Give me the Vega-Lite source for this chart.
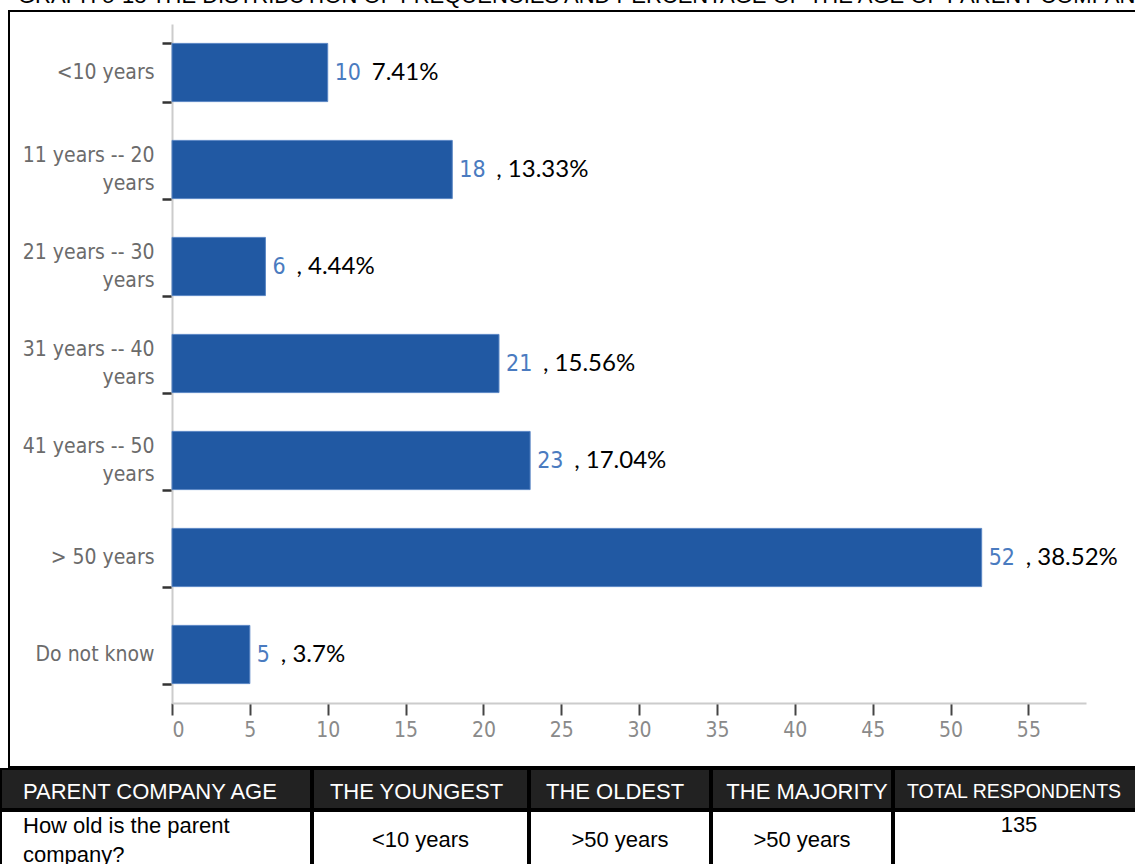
{
  "$schema": "https://vega.github.io/schema/vega-lite/v6.json",
  "background": "white",
  "padding": {"left": 0, "top": -15, "right": 0, "bottom": 0},
  "title": {"text": "GRAPH 5-18 THE DISTRIBUTION OF FREQUENCIES AND PERCENTAGE OF THE AGE OF PARENT COMPANY", "anchor": "start", "dx": 18, "offset": -9, "font": "Liberation Sans", "fontSize": 22, "fontWeight": "normal", "color": "#000"},
  "config": {"view": {"stroke": null}},
  "spacing": 0,
  "datasets": {
    "ages": [
      {"age": "<10 years", "count": 10, "label": "7.41%"},
      {"age": "11 years -- 20 years", "count": 18, "label": ", 13.33%"},
      {"age": "21 years -- 30 years", "count": 6, "label": ", 4.44%"},
      {"age": "31 years -- 40 years", "count": 21, "label": ", 15.56%"},
      {"age": "41 years -- 50 years", "count": 23, "label": ", 17.04%"},
      {"age": "> 50 years", "count": 52, "label": ", 38.52%"},
      {"age": "Do not know", "count": 5, "label": ", 3.7%"}
    ],
    "table": [
      {"col": 1, "header": "PARENT COMPANY AGE", "value": "How old is the parent\ncompany?"},
      {"col": 2, "header": "THE YOUNGEST", "value": "<10 years"},
      {"col": 3, "header": "THE OLDEST", "value": ">50 years"},
      {"col": 4, "header": "THE MAJORITY", "value": ">50 years"},
      {"col": 5, "header": "TOTAL RESPONDENTS", "value": "135"}
    ]
  },
  "vconcat": [
    {
      "spacing": 0,
      "hconcat": [
        {"width": 7, "height": 756, "data": {"values": [{}]}, "mark": {"type": "point", "opacity": 0}},
        {
          "width": 1132,
          "height": 756,
          "view": {"stroke": "#000", "strokeWidth": 2},
          "data": {"name": "ages"},
          "encoding": {
            "y": {
              "field": "age", "type": "nominal", "sort": null,
              "scale": {"range": [13, 692], "paddingInner": 0.4, "paddingOuter": 0.2},
              "axis": {
                "title": null, "orient": "left", "offset": -163,
                "domainColor": "#cccccc", "domainWidth": 2,
                "tickBand": "extent", "tickColor": "#333333", "tickSize": 10, "tickWidth": 2.5,
                "labelColor": "#6b6b6b", "labelFont": "DejaVu Sans Condensed, Liberation Sans", "labelFontSize": 21,
                "labelPadding": 8, "labelLineHeight": 28, "labelLimit": 0,
                "labelOffset": {"condition": {"test": "length(datum.label) > 12", "value": -14}, "value": 0},
                "labelExpr": "length(datum.label) > 12 ? [slice(datum.label, 0, -6), 'years'] : datum.label"
              }
            },
            "x": {
              "field": "count", "type": "quantitative",
              "scale": {"domain": [0, 58.7], "range": [163, 1077], "nice": false, "zero": true},
              "axis": {
                "title": null, "orient": "bottom", "offset": -64, "grid": false,
                "values": [0, 5, 10, 15, 20, 25, 30, 35, 40, 45, 50, 55],
                "domainColor": "#cccccc", "domainWidth": 2,
                "tickColor": "#444444", "tickSize": 12, "tickWidth": 2,
                "labelColor": "#8a8a8a", "labelFont": "DejaVu Sans Condensed, Liberation Sans", "labelFontSize": 21,
                "labelPadding": 4
              }
            }
          },
          "layer": [
            {"mark": {"type": "bar", "color": "#2159a3", "stroke": "#5a86c4", "strokeWidth": 1}},
            {"mark": {"type": "text", "align": "left", "baseline": "middle", "dx": 7, "color": "#4a7bc0", "font": "DejaVu Sans Condensed, Liberation Sans", "fontSize": 23}, "encoding": {"text": {"field": "count"}}},
            {"transform": [{"filter": "datum.count >= 10"}], "mark": {"type": "text", "align": "left", "baseline": "middle", "dx": 44, "color": "#000000", "font": "Lato", "fontSize": 24}, "encoding": {"text": {"field": "label"}}},
            {"transform": [{"filter": "datum.count < 10"}], "mark": {"type": "text", "align": "left", "baseline": "middle", "dx": 31, "color": "#000000", "font": "Lato", "fontSize": 24}, "encoding": {"text": {"field": "label"}}}
          ]
        }
      ]
    },
    {
      "spacing": 0,
      "hconcat": [
        {"width": 310, "height": 40, "data": {"name": "table"}, "transform": [{"filter": "datum.col == 1"}], "view": {"fill": "#222222", "stroke": "#000000", "strokeWidth": 2},
         "mark": {"type": "text", "align": "left", "baseline": "middle", "dx": 22, "dy": 3, "color": "#ffffff", "font": "Liberation Sans", "fontSize": 22},
         "encoding": {"x": {"field": "col", "type": "nominal", "axis": null, "scale": {"type": "point", "padding": 0, "align": 0}}, "text": {"field": "header"}}},
        {"width": 215, "height": 40, "data": {"name": "table"}, "transform": [{"filter": "datum.col == 2"}], "view": {"fill": "#222222", "stroke": "#000000", "strokeWidth": 2},
         "mark": {"type": "text", "align": "center", "baseline": "middle", "dy": 3, "dx": -4, "color": "#ffffff", "font": "Liberation Sans", "fontSize": 22},
         "encoding": {"text": {"field": "header"}}},
        {"width": 180, "height": 40, "data": {"name": "table"}, "transform": [{"filter": "datum.col == 3"}], "view": {"fill": "#222222", "stroke": "#000000", "strokeWidth": 2},
         "mark": {"type": "text", "align": "center", "baseline": "middle", "dy": 3, "dx": -5, "color": "#ffffff", "font": "Liberation Sans", "fontSize": 22},
         "encoding": {"text": {"field": "header"}}},
        {"width": 180, "height": 40, "data": {"name": "table"}, "transform": [{"filter": "datum.col == 4"}], "view": {"fill": "#222222", "stroke": "#000000", "strokeWidth": 2},
         "mark": {"type": "text", "align": "center", "baseline": "middle", "dy": 3, "dx": 5, "color": "#ffffff", "font": "Liberation Sans", "fontSize": 22},
         "encoding": {"text": {"field": "header"}}},
        {"width": 250, "height": 40, "data": {"name": "table"}, "transform": [{"filter": "datum.col == 5"}], "view": {"fill": "#222222", "stroke": "#000000", "strokeWidth": 2},
         "mark": {"type": "text", "align": "center", "baseline": "middle", "dy": 3, "dx": -5, "color": "#ffffff", "font": "Liberation Sans", "fontSize": 19.5},
         "encoding": {"text": {"field": "header"}}}
      ]
    },
    {
      "spacing": 0,
      "hconcat": [
        {"width": 310, "height": 60, "data": {"name": "table"}, "transform": [{"filter": "datum.col == 1"}], "view": {"fill": "#ffffff", "stroke": "#000000", "strokeWidth": 2},
         "mark": {"type": "text", "align": "left", "baseline": "middle", "dx": 22, "dy": -15, "lineBreak": "\n", "lineHeight": 29, "color": "#000000", "font": "Liberation Sans", "fontSize": 22},
         "encoding": {"x": {"field": "col", "type": "nominal", "axis": null, "scale": {"type": "point", "padding": 0, "align": 0}}, "text": {"field": "value"}}},
        {"width": 215, "height": 60, "data": {"name": "table"}, "transform": [{"filter": "datum.col == 2"}], "view": {"fill": "#ffffff", "stroke": "#000000", "strokeWidth": 2},
         "mark": {"type": "text", "align": "center", "baseline": "middle", "dy": -1, "color": "#000000", "font": "Liberation Sans", "fontSize": 22},
         "encoding": {"text": {"field": "value"}}},
        {"width": 180, "height": 60, "data": {"name": "table"}, "transform": [{"filter": "datum.col == 3"}], "view": {"fill": "#ffffff", "stroke": "#000000", "strokeWidth": 2},
         "mark": {"type": "text", "align": "center", "baseline": "middle", "dy": -1, "color": "#000000", "font": "Liberation Sans", "fontSize": 22},
         "encoding": {"text": {"field": "value"}}},
        {"width": 180, "height": 60, "data": {"name": "table"}, "transform": [{"filter": "datum.col == 4"}], "view": {"fill": "#ffffff", "stroke": "#000000", "strokeWidth": 2},
         "mark": {"type": "text", "align": "center", "baseline": "middle", "dy": -1, "color": "#000000", "font": "Liberation Sans", "fontSize": 22},
         "encoding": {"text": {"field": "value"}}},
        {"width": 250, "height": 60, "data": {"name": "table"}, "transform": [{"filter": "datum.col == 5"}], "view": {"fill": "#ffffff", "stroke": "#000000", "strokeWidth": 2},
         "mark": {"type": "text", "align": "center", "baseline": "middle", "dy": -16, "color": "#000000", "font": "Liberation Sans", "fontSize": 22},
         "encoding": {"text": {"field": "value"}}}
      ]
    }
  ]
}
